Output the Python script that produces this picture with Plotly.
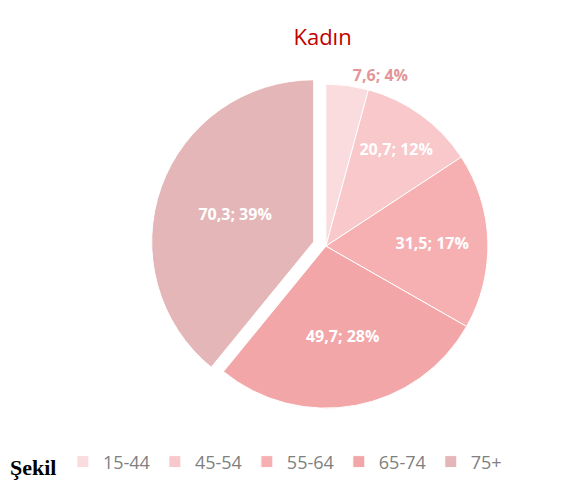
import plotly.graph_objects as go

categories = ["15-44", "45-54", "55-64", "65-74", "75+"]
values = [7.6, 20.7, 31.5, 49.7, 70.3]
value_labels = ["7,6", "20,7", "31,5", "49,7", "70,3"]
percent_labels = ["4%", "12%", "17%", "28%", "39%"]
colors = ["#fadcde", "#f8c8ca", "#f6b0b2", "#f2a6a8", "#e4b6b8"]
pulls = [0, 0, 0, 0, 0.08]
text_positions = ["outside", "inside", "inside", "inside", "inside"]

texts = [f"{v}; {p}" for v, p in zip(value_labels, percent_labels)]

fig = go.Figure(go.Pie(
    labels=categories,
    values=values,
    text=texts,
    textinfo="text",
    textposition=text_positions,
    insidetextorientation="horizontal",
    textfont=dict(family="Open Sans, Noto Sans, sans-serif", size=16, weight="bold"),
    insidetextfont=dict(color="white"),
    outsidetextfont=dict(color="#e39597"),
    marker=dict(colors=colors, line=dict(color="white", width=1)),
    sort=False,
    direction="clockwise",
    rotation=0,
    pull=pulls,
    domain=dict(x=[0.18, 0.92], y=[0.15, 0.87]),
    showlegend=True,
))

fig.update_layout(
    width=588, height=486,
    margin=dict(l=0, r=0, t=0, b=0),
    paper_bgcolor="white",
    plot_bgcolor="white",
    title=dict(text="Kadın", x=0.535, xanchor="center", y=0.94, yanchor="middle",
               font=dict(family="Open Sans, Noto Sans, sans-serif", size=22, color="#c00000")),
    legend=dict(orientation="h", x=0.095, xanchor="left", y=0.066, yanchor="middle",
                font=dict(family="Open Sans, Noto Sans, sans-serif", size=18, color="#808080"),
                itemwidth=30, traceorder="normal"),
    annotations=[dict(text="<b>Şekil</b>", xref="paper", yref="paper",
                      x=0.0, y=0.055, xanchor="left", yanchor="middle", showarrow=False,
                      font=dict(family="Liberation Serif, serif", size=22, color="black"))],
)

fig.write_html("out.html")
